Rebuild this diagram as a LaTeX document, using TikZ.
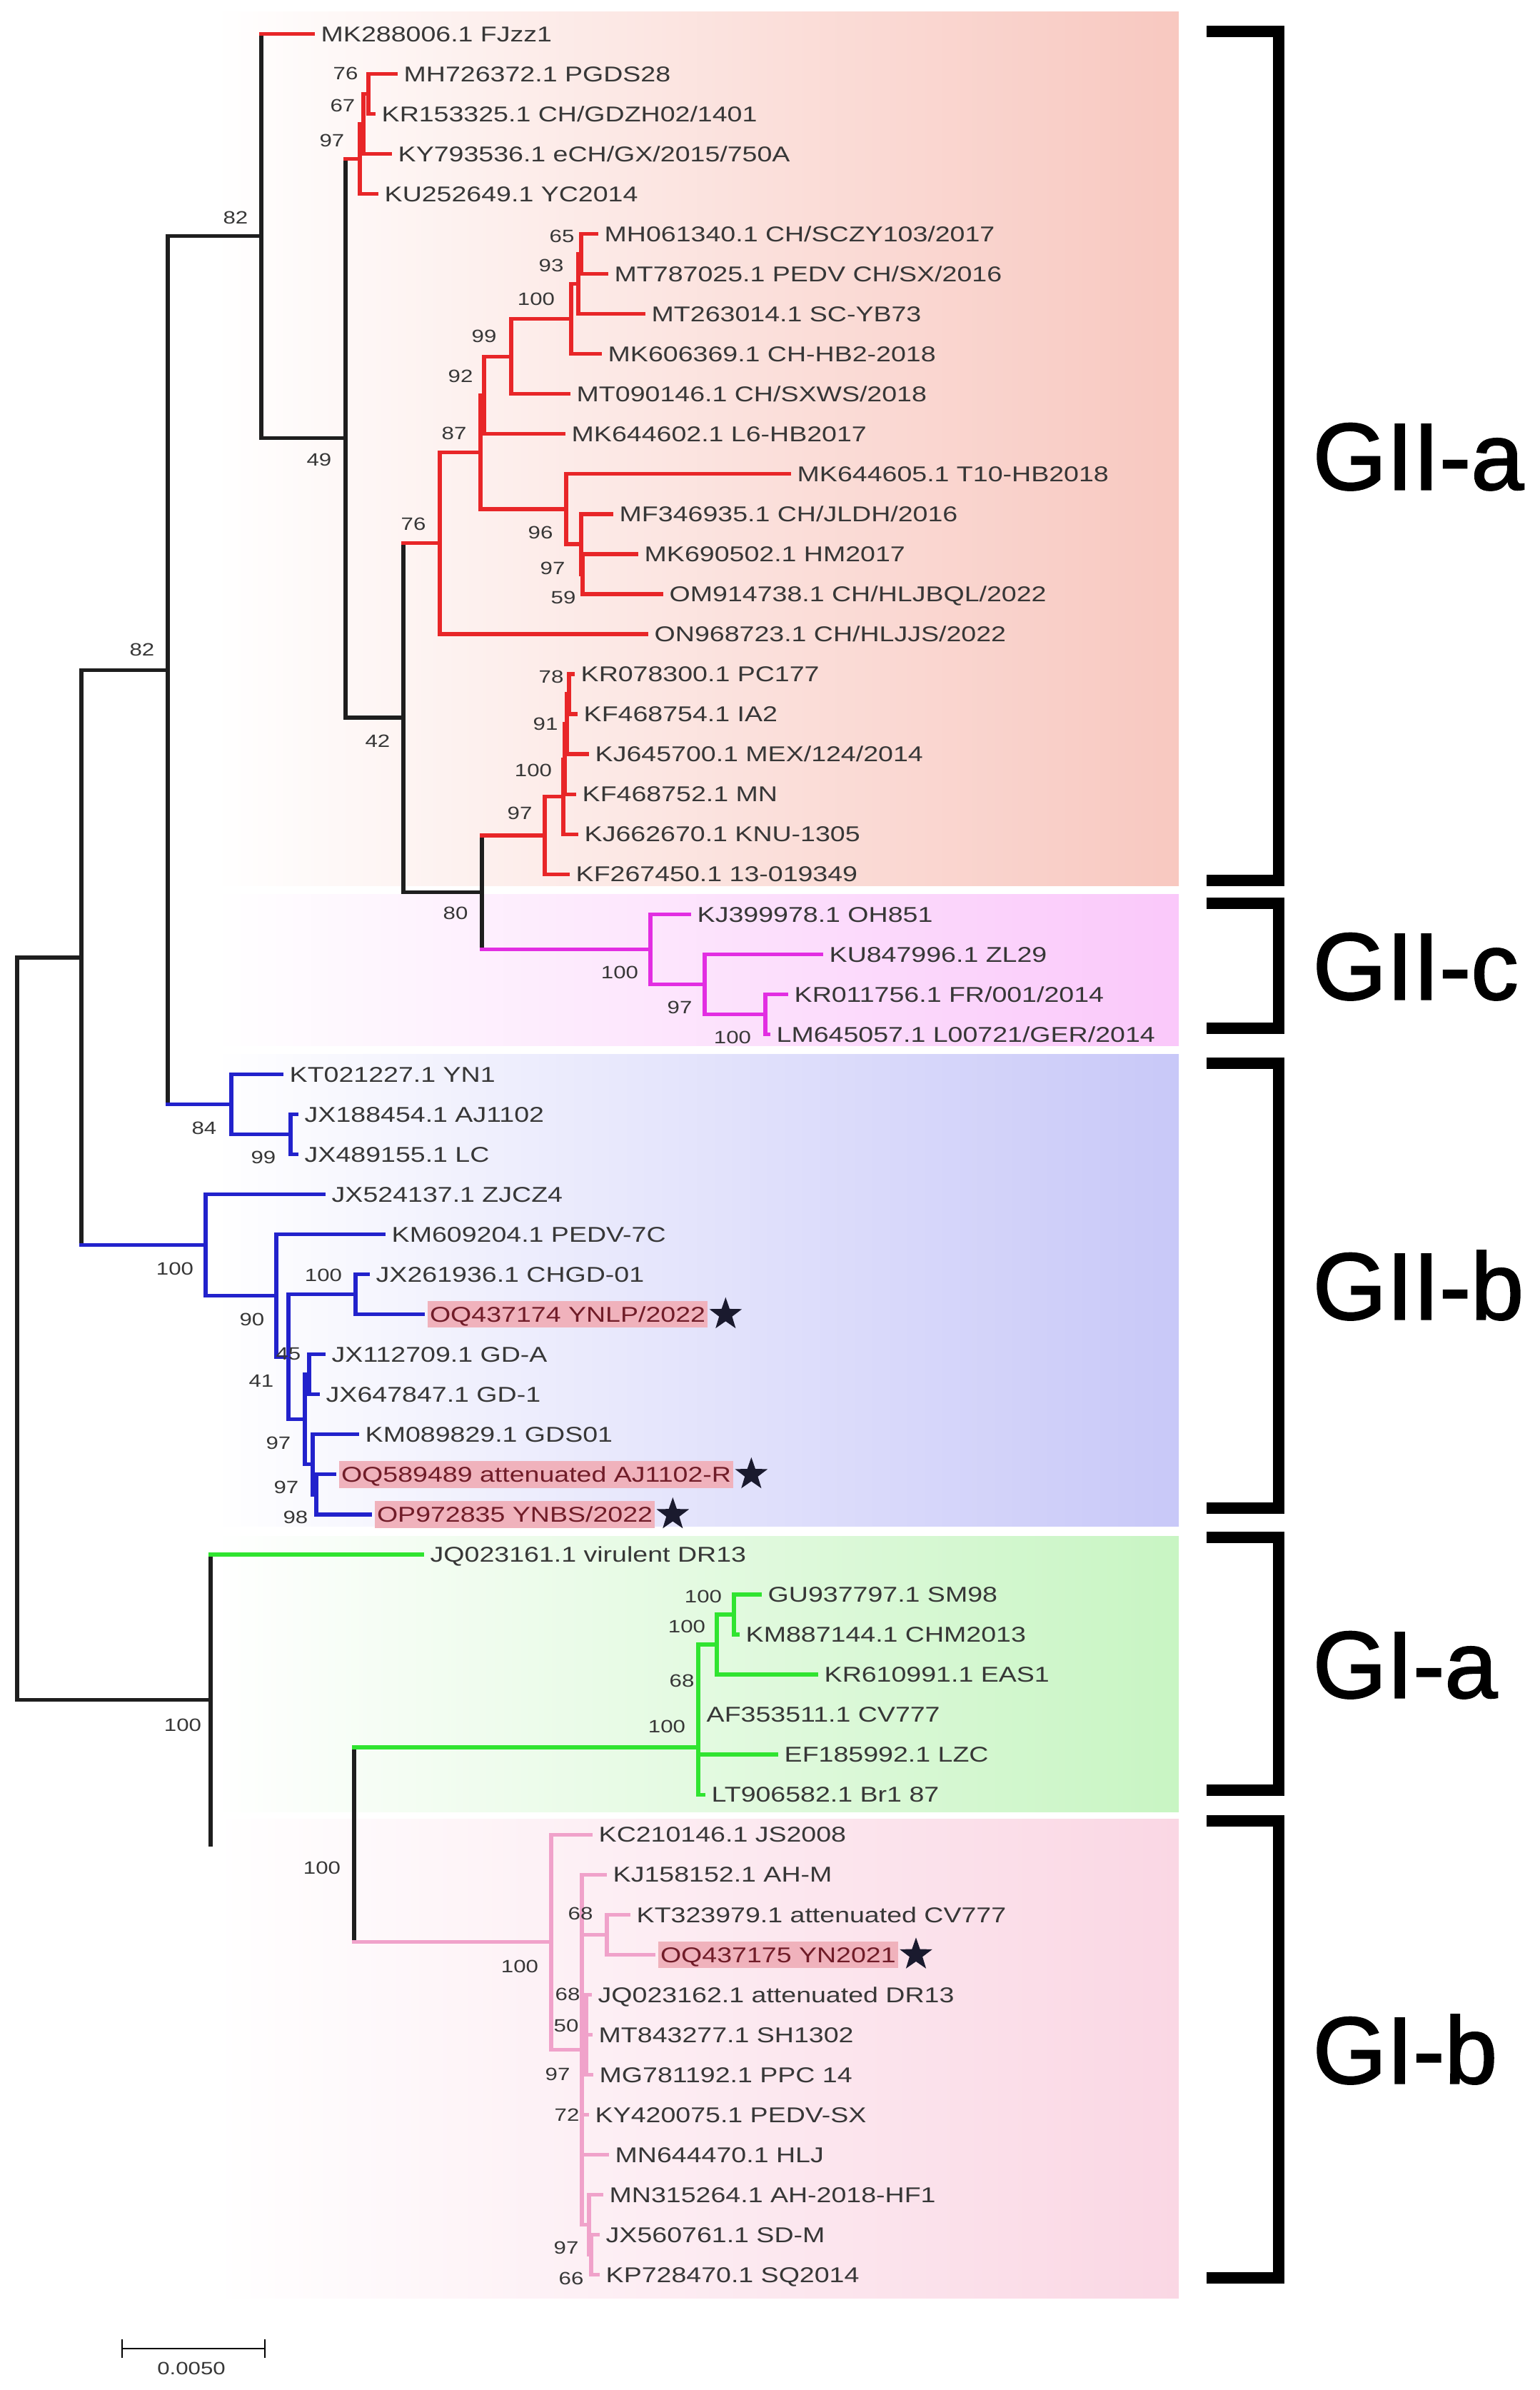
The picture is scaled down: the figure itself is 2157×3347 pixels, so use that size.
\documentclass[tikz,border=0pt]{standalone}
\usepackage{fontspec}
\setmainfont{Liberation Sans}
\newfontfamily\labfont{Liberation Sans}[FakeStretch=1.25]
\newfontfamily\cladefont{Liberation Sans}[FakeBold=1.6]
\usetikzlibrary{shapes.geometric,positioning}

\definecolor{cRed}{RGB}{232,38,40}
\definecolor{cMag}{RGB}{226,46,226}
\definecolor{cBlue}{RGB}{34,34,204}
\definecolor{cGreen}{RGB}{48,228,48}
\definecolor{cPink}{RGB}{240,162,202}
\definecolor{cBlack}{RGB}{30,30,30}
\definecolor{txtgray}{RGB}{55,55,55}
\definecolor{hlpink}{RGB}{240,178,188}
\definecolor{hltext}{RGB}{112,28,40}
\definecolor{starcol}{RGB}{26,26,46}
\definecolor{bgRed}{RGB}{248,200,192}
\definecolor{bgMag}{RGB}{250,200,250}
\definecolor{bgBlue}{RGB}{200,200,248}
\definecolor{bgGreen}{RGB}{200,245,195}
\definecolor{bgPink}{RGB}{250,215,228}

\begin{document}
\begin{tikzpicture}
		[x=0.01cm,y=-0.01cm,
		leaf/.style={anchor=west,inner xsep=0.11cm,inner ysep=0pt,text height=0.215cm,
			text depth=0pt,text=txtgray,font=\labfont\fontsize{8.54pt}{10pt}\selectfont},
		hilite/.style={leaf,fill=hlpink,text=hltext,inner xsep=0.03cm,inner ysep=0.08cm,outer xsep=0.07cm},
		boot/.style={inner sep=0pt,text height=0.18cm,text depth=0pt,text=txtgray,
			font=\labfont\fontsize{7.1pt}{8pt}\selectfont},
		br/.style={line width=1.5pt,line cap=rect},
		starmark/.style={star,star points=5,star point ratio=2.5,fill=starcol,inner sep=0pt,minimum size=0.48cm},
		bracket/.style={line width=4.3pt,line join=miter},
		clade/.style={anchor=west,inner sep=0pt,text height=0.95cm,text depth=0pt,
			font=\cladefont\fontsize{37.8pt}{40pt}\selectfont}
		]
		\useasboundingbox (0,0) rectangle (2157,3347);
		
		% clade bands
		\shade[left color=white,middle color=bgRed!60,right color=bgRed] (300,16) rectangle (1651,1240);
		\shade[left color=white,middle color=bgMag!60,right color=bgMag] (300,1252) rectangle (1651,1464);
		\shade[left color=white,middle color=bgBlue!60,right color=bgBlue] (300,1476) rectangle (1651,2137);
		\shade[left color=white,middle color=bgGreen!60,right color=bgGreen] (300,2151) rectangle (1651,2537);
		\shade[left color=white,middle color=bgPink!60,right color=bgPink] (300,2547) rectangle (1651,3218);
		
		% leaves
		\node[leaf] (l1) at (438,47.4) {MK288006.1 FJzz1};
		\node[leaf] (l2) at (554,103.4) {MH726372.1 PGDS28};
		\node[leaf] (l3) at (523,159.5) {KR153325.1 CH/GDZH02/1401};
		\node[leaf] (l4) at (546,215.5) {KY793536.1 eCH/GX/2015/750A};
		\node[leaf] (l5) at (527,271.6) {KU252649.1 YC2014};
		\node[leaf] (l6) at (835,327.6) {MH061340.1 CH/SCZY103/2017};
		\node[leaf] (l7) at (849,383.6) {MT787025.1 PEDV CH/SX/2016};
		\node[leaf] (l8) at (901,439.7) {MT263014.1 SC-YB73};
		\node[leaf] (l9) at (840,495.7) {MK606369.1 CH-HB2-2018};
		\node[leaf] (l10) at (796,551.8) {MT090146.1 CH/SXWS/2018};
		\node[leaf] (l11) at (789,607.8) {MK644602.1 L6-HB2017};
		\node[leaf] (l12) at (1105,663.8) {MK644605.1 T10-HB2018};
		\node[leaf] (l13) at (856,719.9) {MF346935.1 CH/JLDH/2016};
		\node[leaf] (l14) at (891,775.9) {MK690502.1 HM2017};
		\node[leaf] (l15) at (926,832.0) {OM914738.1 CH/HLJBQL/2022};
		\node[leaf] (l16) at (905,888.0) {ON968723.1 CH/HLJJS/2022};
		\node[leaf] (l17) at (802,944.0) {KR078300.1 PC177};
		\node[leaf] (l18) at (806,1000.1) {KF468754.1 IA2};
		\node[leaf] (l19) at (822,1056.1) {KJ645700.1 MEX/124/2014};
		\node[leaf] (l20) at (804,1112.2) {KF468752.1 MN};
		\node[leaf] (l21) at (807,1168.2) {KJ662670.1 KNU-1305};
		\node[leaf] (l22) at (795,1224.2) {KF267450.1 13-019349};
		\node[leaf] (l23) at (965,1280.3) {KJ399978.1 OH851};
		\node[leaf] (l24) at (1150,1336.3) {KU847996.1 ZL29};
		\node[leaf] (l25) at (1101,1392.4) {KR011756.1 FR/001/2014};
		\node[leaf] (l26) at (1076,1448.4) {LM645057.1 L00721/GER/2014};
		\node[leaf] (l27) at (394,1504.4) {KT021227.1 YN1};
		\node[leaf] (l28) at (415,1560.5) {JX188454.1 AJ1102};
		\node[leaf] (l29) at (415,1616.5) {JX489155.1 LC};
		\node[leaf] (l30) at (453,1672.6) {JX524137.1 ZJCZ4};
		\node[leaf] (l31) at (537,1728.6) {KM609204.1 PEDV-7C};
		\node[leaf] (l32) at (515,1784.6) {JX261936.1 CHGD-01};
		\node[hilite] (l33) at (592,1840.7) {OQ437174 YNLP/2022};
		\node[leaf] (l34) at (453,1896.7) {JX112709.1 GD-A};
		\node[leaf] (l35) at (445,1952.8) {JX647847.1 GD-1};
		\node[leaf] (l36) at (500,2008.8) {KM089829.1 GDS01};
		\node[hilite] (l37) at (468,2064.8) {OQ589489 attenuated AJ1102-R};
		\node[hilite] (l38) at (518,2120.9) {OP972835 YNBS/2022};
		\node[leaf] (l39) at (591,2176.9) {JQ023161.1 virulent DR13};
		\node[leaf] (l40) at (1064,2233.0) {GU937797.1 SM98};
		\node[leaf] (l41) at (1033,2289.0) {KM887144.1 CHM2013};
		\node[leaf] (l42) at (1143,2345.0) {KR610991.1 EAS1};
		\node[leaf] (l43) at (978,2401.1) {AF353511.1 CV777};
		\node[leaf] (l44) at (1087,2457.1) {EF185992.1 LZC};
		\node[leaf] (l45) at (985,2513.2) {LT906582.1 Br1 87};
		\node[leaf] (l46) at (827,2569.2) {KC210146.1 JS2008};
		\node[leaf] (l47) at (847,2625.2) {KJ158152.1 AH-M};
		\node[leaf] (l48) at (880,2681.3) {KT323979.1 attenuated CV777};
		\node[hilite] (l49) at (915,2737.3) {OQ437175 YN2021};
		\node[leaf] (l50) at (826,2793.4) {JQ023162.1 attenuated DR13};
		\node[leaf] (l51) at (827,2849.4) {MT843277.1 SH1302};
		\node[leaf] (l52) at (828,2905.4) {MG781192.1 PPC 14};
		\node[leaf] (l53) at (822,2961.5) {KY420075.1 PEDV-SX};
		\node[leaf] (l54) at (850,3017.5) {MN644470.1 HLJ};
		\node[leaf] (l55) at (842,3073.6) {MN315264.1 AH-2018-HF1};
		\node[leaf] (l56) at (837,3129.6) {JX560761.1 SD-M};
		\node[leaf] (l57) at (837,3185.6) {KP728470.1 SQ2014};
		
		% stars for the new strains
		\node[starmark,right=0.04cm of l33] (s33) {};
		\node[starmark,right=0.04cm of l37] (s37) {};
		\node[starmark,right=0.04cm of l38] (s38) {};
		\node[starmark,right=0.04cm of l49] (s49) {};
		
		% inner nodes
		\coordinate (r) at (24,1860.6);
		\coordinate (nGII) at (114,1341);
		\coordinate (n82b) at (235,938.5);
		\coordinate (n82a) at (366,330.6);
		\coordinate (n49) at (484,613.8);
		\coordinate (n97a) at (504,222.5);
		\coordinate (n67) at (509,173.5);
		\coordinate (n76a) at (516,131.5);
		\coordinate (n42) at (565,1005.1);
		\coordinate (n76) at (616,760.6);
		\coordinate (n87) at (673,633.2);
		\coordinate (n92) at (678,553.5);
		\coordinate (n99) at (716,499.2);
		\coordinate (n100a) at (800,446.7);
		\coordinate (n93) at (810,397.7);
		\coordinate (n65) at (814,355.6);
		\coordinate (n96) at (793,712.9);
		\coordinate (n97b) at (814,761.9);
		\coordinate (n59) at (816,804.0);
		\coordinate (n80) at (675,1249.6);
		\coordinate (n97c) at (763,1169.9);
		\coordinate (n100d) at (789,1115.7);
		\coordinate (n100e) at (791,1063.2);
		\coordinate (n91) at (794,1014.1);
		\coordinate (n78) at (797,972.1);
		\coordinate (n100c) at (911,1329.3);
		\coordinate (n97d) at (987,1378.4);
		\coordinate (n100f) at (1072,1420.4);
		\coordinate (n84) at (324,1546.5);
		\coordinate (n99b) at (407,1588.5);
		\coordinate (nB100) at (288,1743.5);
		\coordinate (n90) at (387,1814.4);
		\coordinate (n45) at (404,1900.2);
		\coordinate (n100g2) at (498,1812.7);
		\coordinate (n97e) at (427,1987.8);
		\coordinate (n41) at (433,1924.8);
		\coordinate (n97f) at (438,2050.8);
		\coordinate (n98) at (443,2092.9);
		\coordinate (nGI) at (295,2380.2);
		\coordinate (n100g) at (496,2583.4);
		\coordinate (nGIa) at (978,2447);
		\coordinate (n100i) at (1004,2303);
		\coordinate (n100h) at (1028,2261);
		\coordinate (n100j) at (772,2719.8);
		\coordinate (nK) at (815,2870.4);
		\coordinate (n68k) at (850,2709.3);
		\coordinate (nL) at (821,2849.4);
		\coordinate (n97z) at (825,3115.6);
		\coordinate (n66) at (828,3157.6);
		
		% verticals
		\foreach \n/\a/\b in {r/nGII/nGI,nGII/n82b/nB100,n82b/n82a/n84,n82a/l1/n49,n49/n97a/n42,
			n42/n76/n80,n80/n97c/n100c,nGI/l39/n100g,n100g/nGIa/n100j}
		\draw[br,cBlack] (\n |- \a) -- (\n |- \b);
		\foreach \n/\a/\b in {n97a/n67/l5,n67/n76a/l4,n76a/l2/l3,n76/n87/l16,n87/n92/n96,n92/n99/l11,
			n99/n100a/l10,n100a/n93/l9,n93/n65/l8,n65/l6/l7,n96/l12/n97b,n97b/l13/n59,n59/l14/l15,
			n97c/n100d/l22,n100d/n100e/l21,n100e/n91/l20,n91/n78/l19,n78/l17/l18}
		\draw[br,cRed] (\n |- \a) -- (\n |- \b);
		\foreach \n/\a/\b in {n100c/l23/n97d,n97d/l24/n100f,n100f/l25/l26}
		\draw[br,cMag] (\n |- \a) -- (\n |- \b);
		\foreach \n/\a/\b in {n84/l27/n99b,n99b/l28/l29,nB100/l30/n90,n90/l31/n45,n45/n100g2/n97e,
			n100g2/l32/l33,n97e/n41/n97f,n41/l34/l35,n97f/l36/n98,n98/l37/l38}
		\draw[br,cBlue] (\n |- \a) -- (\n |- \b);
		\foreach \n/\a/\b in {nGIa/n100i/l45,n100i/n100h/l42,n100h/l40/l41}
		\draw[br,cGreen] (\n |- \a) -- (\n |- \b);
		\foreach \n/\a/\b in {n100j/l46/nK,nK/l47/n97z,n68k/l48/l49,nL/l50/l52,n97z/l55/n66,n66/l56/l57}
		\draw[br,cPink] (\n |- \a) -- (\n |- \b);
		
		% branches
		\foreach \p/\c in {r/nGII,r/nGI,nGII/n82b,n82b/n82a,n82a/n49,n49/n42,n42/n80}
		\draw[br,cBlack] (\p |- \c) -- (\c);
		\foreach \p/\c in {n82a/l1,n49/n97a,n97a/n67,n97a/l5,n67/n76a,n67/l4,n76a/l2,n76a/l3,
			n42/n76,n76/n87,n76/l16,n87/n92,n87/n96,n92/n99,n92/l11,n99/n100a,n99/l10,n100a/n93,
			n100a/l9,n93/n65,n93/l8,n65/l6,n65/l7,n96/l12,n96/n97b,n97b/l13,n97b/n59,n59/l14,n59/l15,
			n80/n97c,n97c/n100d,n97c/l22,n100d/n100e,n100d/l21,n100e/n91,n100e/l20,n91/n78,n91/l19,
			n78/l17,n78/l18}
		\draw[br,cRed] (\p |- \c) -- (\c);
		\foreach \p/\c in {n80/n100c,n100c/l23,n100c/n97d,n97d/l24,n97d/n100f,n100f/l25,n100f/l26}
		\draw[br,cMag] (\p |- \c) -- (\c);
		\foreach \p/\c in {n82b/n84,n84/l27,n84/n99b,n99b/l28,n99b/l29,nGII/nB100,nB100/l30,
			nB100/n90,n90/l31,n90/n45,n45/n100g2,n45/n97e,n100g2/l32,n100g2/l33,n97e/n41,n97e/n97f,
			n41/l34,n41/l35,n97f/l36,n97f/n98,n98/l37,n98/l38}
		\draw[br,cBlue] (\p |- \c) -- (\c);
		\foreach \p/\c in {nGI/l39,n100g/nGIa,nGIa/n100i,nGIa/l44,nGIa/l45,n100i/n100h,n100i/l42,
			n100h/l40,n100h/l41}
		\draw[br,cGreen] (\p |- \c) -- (\c);
		\foreach \p/\c in {n100g/n100j,n100j/l46,n100j/nK,nK/l47,nK/n68k,nK/nL,nK/l53,nK/l54,
			nK/n97z,n68k/l48,n68k/l49,nL/l50,nL/l51,nL/l52,n97z/l55,n97z/n66,n66/l56,n66/l57}
		\draw[br,cPink] (\p |- \c) -- (\c);
		
		% bootstrap values
		\foreach \x/\y/\v [count=\k] in {330/304/82,484/102/76,480/147/67,465/196/97,447/643/49,
			787/330/65,772/371/93,751/418/100,678/470/99,645/526/92,636/606/87,757/745/96,
			774/795/97,789/836/59,579/733/76,529/1037/42,772/947/78,764/1013/91,747/1078/100,
			728/1138/97,638/1278/80,868/1361/100,952/1410/97,1026/1452/100,199/909/82,
			286/1579/84,369/1620/99,245/1776/100,453/1785/100,353/1847/90,404/1895/45,
			366/1933/41,390/2020/97,401/2082/97,414/2124/98,256/2415/100,985/2235/100,
			962/2277/100,955/2353/68,934/2417/100,451/2615/100,728/2753/100,813/2679/68,
			795/2792/68,793/2836/50,781/2904/97,794/2961/72,793/3147/97,800/3190/66}
		\node[boot] (bs\k) at (\x,\y) {\v};
		
		% clade brackets
		\foreach \t/\b in {44/1233,1265/1440,1489/2112,2153/2507,2550/3190}
		\draw[bracket] (1690,\t) -| (1791,\b) -- (1690,\b);
		\node[clade] (gIIa) at (1838,638) {GII-a};
		\node[clade] (gIIc) at (1838,1352) {GII-c};
		\node[clade] (gIIb) at (1838,1800) {GII-b};
		\node[clade] (gIa) at (1838,2330) {GI-a};
		\node[clade] (gIb) at (1838,2870) {GI-b};
		
		% scale bar
		\coordinate (sbL) at (171,3289);
		\coordinate (sbR) at (371,3289);
		\draw[line width=0.8pt] (sbL) -- (sbR);
		\draw[line width=0.8pt] ([yshift=0.13cm]sbL) -- ([yshift=-0.13cm]sbL);
		\draw[line width=0.8pt] ([yshift=0.13cm]sbR) -- ([yshift=-0.13cm]sbR);
		\node[boot] (sbtxt) at (268,3316) {0.0050};
	\end{tikzpicture}
\end{document}
